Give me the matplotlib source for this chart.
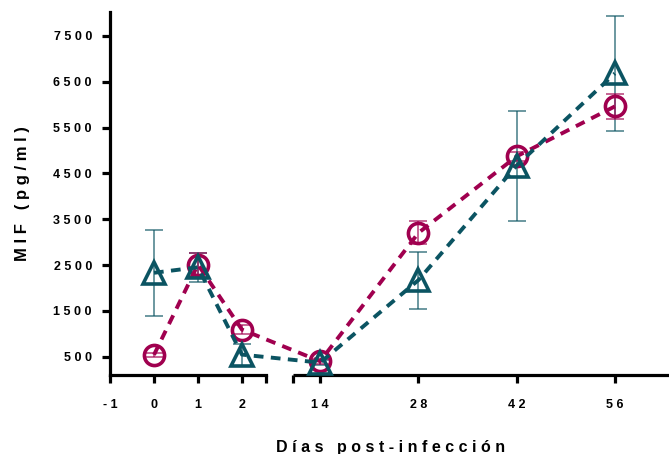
import numpy as np
import matplotlib
matplotlib.use("Agg")
import matplotlib.pyplot as plt

plt.rcParams['font.family'] = ['Liberation Sans', 'DejaVu Sans']
plt.rcParams['font.weight'] = 'bold'

# ---- datos ----
dias = [0, 1, 2, 14, 28, 42, 56]
circulos = [540, 2510, 1090, 400, 3200, 4870, 5960]
circulos_err = [50, 260, 100, 50, 250, 100, 265]
triangulos = [2330, 2450, 545, 370, 2170, 4670, 6680]
triangulos_err = [940, 310, 240, 50, 620, 1200, 1260]

ticks_x = [-1, 0, 1, 2, 14, 28, 42, 56]
ticks_y = [500, 1500, 2500, 3500, 4500, 5500, 6500, 7500]

color_c = '#A0004F'
color_t = '#0B5462'

# ---- eje x con corte (2.55 -> 10.15) ----
lo, hi = 2.55, 10.15
gap = 0.614
r = 7.02 / 44.0


def fwd(d):
    d = np.asarray(d, dtype=float)
    return np.where(d <= lo, d,
                    np.where(d >= hi, lo + gap + (d - hi) * r,
                             lo + (d - lo) / (hi - lo) * gap))


def inv(u):
    u = np.asarray(u, dtype=float)
    return np.where(u <= lo, u,
                    np.where(u >= lo + gap, hi + (u - lo - gap) / r,
                             lo + (u - lo) / gap * (hi - lo)))


def espaciar(s):
    return " ".join(list(s))


fig = plt.figure(figsize=(6.69, 4.54), dpi=100)
ax = fig.add_axes([110 / 669, 79 / 454, 561 / 669, 363 / 454])
ax.set_xscale('function', functions=(fwd, inv))
ax.set_xlim(-1, 64)
ax.set_ylim(100, 8020)

# barras de error
ax.errorbar(dias, triangulos, yerr=triangulos_err, fmt='none', ecolor=color_t,
            alpha=0.7, elinewidth=1.2, capsize=6.5, capthick=1.2, zorder=3, clip_on=False)
ax.errorbar(dias, circulos, yerr=circulos_err, fmt='none', ecolor=color_c,
            alpha=0.7, elinewidth=1.2, capsize=6.5, capthick=1.2, zorder=3, clip_on=False)

# series
ax.plot(dias, circulos, linestyle=(0, (2.5, 1.9)), lw=2.8, color=color_c,
        marker='o', ms=14.5, mfc='none', mec=color_c, mew=2.6, zorder=5, clip_on=False)
ax.plot(dias, triangulos, linestyle=(0, (2.5, 1.9)), lw=2.8, color=color_t,
        marker='^', ms=15.5, mfc='none', mec=color_t, mew=2.6, zorder=6, clip_on=False)

# ejes
for lado in ['top', 'right']:
    ax.spines[lado].set_visible(False)
ax.spines['left'].set_linewidth(2.3)
ax.spines['bottom'].set_linewidth(2.3)
ax.spines['bottom'].set_bounds(-1, lo)
ax.plot([hi, 64], [0, 0], transform=ax.get_xaxis_transform(), color='black',
        lw=2.3, clip_on=False, solid_capstyle='butt', zorder=2.5)

ax.set_xticks(ticks_x + [lo, hi])
ax.set_xticklabels([espaciar(str(t)) for t in ticks_x] + ['', ''])
ax.set_yticks(ticks_y)
ax.set_yticklabels([espaciar(str(t)) for t in ticks_y])
ax.tick_params(axis='both', width=2.3, length=6, labelsize=9)
ax.tick_params(axis='x', pad=11)
ax.tick_params(axis='y', pad=7)

ax.set_ylabel("M I F   ( p g / m l )", fontsize=12, fontweight='bold', labelpad=17)
ax.set_xlabel("D í a s   p o s t - i n f e c c i ó n", fontsize=11.5, fontweight='bold',
              labelpad=21)

fig.savefig("out.png", dpi=100)
